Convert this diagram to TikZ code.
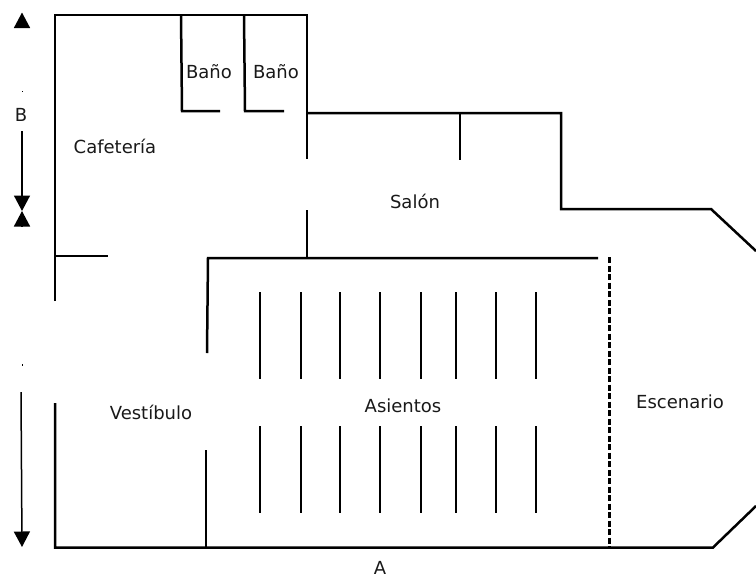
\documentclass[tikz,border=0pt]{standalone}
\usepackage{fontspec}
\setmainfont{DejaVu Sans}
\usetikzlibrary{arrows.meta}
\begin{document}
\begin{tikzpicture}[x=1pt,y=-1pt]
	\tikzstyle{wall} = [line width=2.5pt,line cap=butt,line join=miter];
	\tikzstyle{plain} = [draw=none,fill=none,inner sep=0pt,font=\fontsize{18}{22}\selectfont,text=black!90];
	\tikzstyle{dim} = [line width=1.5pt,-{Triangle[length=15.5pt,width=16pt]}];
	\def\seats{260,301,340,380,421,456,496,536};
	\useasboundingbox (0,0) rectangle (756,579);
	% walls
	\draw[wall] (55,301) -- (55,15) -- (307,15) -- (307,159);
	\draw[wall] (307,113) -- (561,113) -- (561,209) -- (711,209) -- (756,251);
	\draw[wall] (181,15) -- (182,111) -- (220,111);
	\draw[wall] (244,15) -- (245,111) -- (284,111);
	\draw[wall] (460,113) -- (460,160);
	\draw[wall] (307,210) -- (307,258);
	\draw[wall] (55,256) -- (108,256);
	\draw[wall] (207,353) -- (208,258) -- (598,258);
	\draw[wall] (55,403) -- (55,547.5) -- (713,547.5) -- (756,506);
	\draw[wall] (206,450) -- (206,547);
	\draw[line width=2.5pt,dash pattern=on 6pt off 2.5pt] (609.5,257) -- (609.5,547);
	% seats
	\foreach \x in \seats
	{
		\draw[wall] (\x,292) -- (\x,379);
		\draw[wall] (\x,426) -- (\x,513);
	}
	% labels
	\node[plain] (bano1) at (209,72) { Baño };
	\node[plain] (bano2) at (276,72) { Baño };
	\node[plain] (cafe) at (115,146) { Cafetería };
	\node[plain] (salon) at (415,201) { Salón };
	\node[plain] (asientos) at (403,406) { Asientos };
	\node[plain] (vestibulo) at (151,412) { Vestíbulo };
	\node[plain] (escenario) at (680,402) { Escenario };
	\node[plain] (a) at (380,568) { A };
	\node[plain] (b) at (21,115) { B };
	% dimensions
	\coordinate (btop) at (22,20);
	\coordinate (btip) at (22,12.5);
	\coordinate (bmidup) at (22,226);
	\coordinate (bmid) at (22,211);
	\coordinate (atop) at (21,392);
	\coordinate (abot) at (22,547);
	\draw[dim] (btop) -- (btip);
	\draw[dim] (22,131) -- (bmid);
	\draw[dim] (bmidup) -- (bmid);
	\draw[dim] (atop) -- (abot);
	\fill (21.6,90.5) rectangle (22.4,91.5);
	\fill (21.6,364) rectangle (22.4,366);
\end{tikzpicture}
\end{document}
